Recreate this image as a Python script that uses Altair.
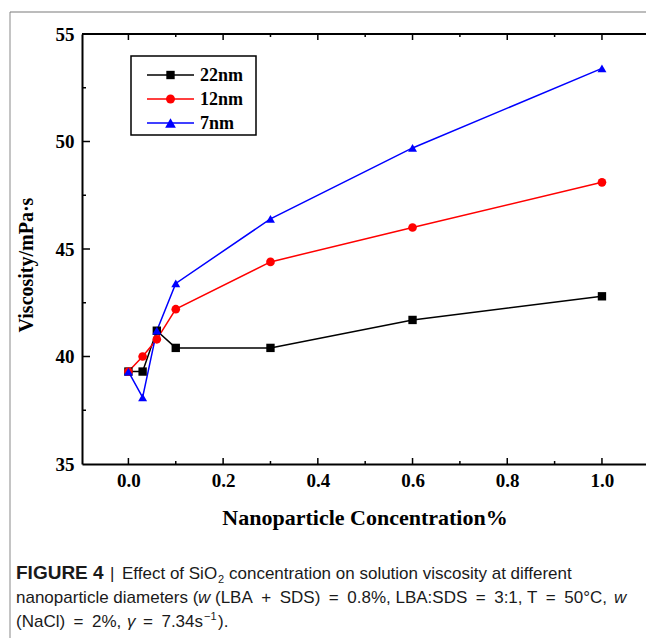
import altair as alt
import pandas as pd

# ---- data ----
conc = [0.0, 0.03, 0.06, 0.1, 0.3, 0.6, 1.0]
visc_22nm = [39.3, 39.3, 41.2, 40.4, 40.4, 41.7, 42.8]
visc_12nm = [39.3, 40.0, 40.8, 42.2, 44.4, 46.0, 48.1]
visc_7nm = [39.3, 38.1, 41.2, 43.4, 46.4, 49.7, 53.4]
series_names = ["22nm", "12nm", "7nm"]
series_colors = ["#000000", "#ff0000", "#0000ff"]
series_shapes = ["square", "circle", "triangle-up"]
series_sizes = [70, 80, 115]

x_major = [0.0, 0.2, 0.4, 0.6, 0.8, 1.0]
x_minor = [0.1, 0.3, 0.5, 0.7, 0.9]
y_major = [35, 40, 45, 50, 55]
y_minor = [37.5, 42.5, 47.5, 52.5]

x_title = "Nanoparticle Concentration%"
y_title = "Viscosity/mPa·s"
EN = "\u2002"

W, H = 564, 430
SERIF = "Liberation Serif"
SANS = "Liberation Sans"

rows = []
for name, vals in zip(series_names, [visc_22nm, visc_12nm, visc_7nm]):
    for c, v in zip(conc, vals):
        rows.append({"series": name, "conc": c, "visc": v})
df = pd.DataFrame(rows)

xscale = alt.Scale(domain=[-0.098, 1.093], nice=False, zero=False)
yscale = alt.Scale(domain=[35, 55], nice=False, zero=False)
x_axis = alt.Axis(values=x_major, format=".1f", ticks=False, grid=False, title=None, labelPadding=7)
y_axis = alt.Axis(values=y_major, format="d", ticks=False, grid=False, title=None, labelPadding=8)
color = alt.Color("series:N", scale=alt.Scale(domain=series_names, range=series_colors), legend=None)

base = alt.Chart(df).encode(
    x=alt.X("conc:Q", scale=xscale, axis=x_axis),
    y=alt.Y("visc:Q", scale=yscale, axis=y_axis),
    color=color,
)
lines = base.mark_line(strokeWidth=1.5)
points = base.mark_point(filled=True, opacity=1).encode(
    shape=alt.Shape("series:N", scale=alt.Scale(domain=series_names, range=series_shapes), legend=None),
    size=alt.Size("series:N", scale=alt.Scale(domain=series_names, range=series_sizes), legend=None),
)

one = pd.DataFrame({"k": [0]})

def xt(vals, length, top):
    d = pd.DataFrame({"conc": vals})
    if top:
        y0, y1 = 0, length
    else:
        y0, y1 = H, H - length
    return alt.Chart(d).mark_rule(color="black", strokeWidth=1.5).encode(
        x=alt.X("conc:Q", scale=xscale, axis=x_axis), y=alt.value(y0), y2=alt.value(y1))

def yt(vals, length):
    d = pd.DataFrame({"visc": vals})
    return alt.Chart(d).mark_rule(color="black", strokeWidth=1.5).encode(
        y=alt.Y("visc:Q", scale=yscale, axis=y_axis), x=alt.value(0), x2=alt.value(length))

ticks = [xt(x_major, 6, False), xt(x_minor, 3, False), xt(x_major, 6, True), xt(x_minor, 3, True),
         yt(y_major[1:-1], 8), yt(y_minor, 4)]

top_line = alt.Chart(one).mark_rule(color="black", strokeWidth=2).encode(
    x=alt.value(0), x2=alt.value(W), y=alt.value(0))

# figure frame
frame_left = alt.Chart(one).mark_rule(color="#c4c4c4", strokeWidth=2).encode(
    x=alt.value(-72), y=alt.value(-22), y2=alt.value(H + 174))
frame_top = alt.Chart(one).mark_rule(color="#7a7a7a", strokeWidth=1.2).encode(
    x=alt.value(-72), x2=alt.value(W), y=alt.value(-22))

# legend
leg_box = alt.Chart(one).mark_rect(fill="white", stroke="black", strokeWidth=1.5).encode(
    x=alt.value(49), x2=alt.value(174), y=alt.value(22), y2=alt.value(101))
leg_layers = [leg_box]
row_y = [41, 65, 89]
for name, col, shp, sz, ry in zip(series_names, series_colors, series_shapes, series_sizes, row_y):
    leg_layers.append(alt.Chart(one).mark_rule(color=col, strokeWidth=1.5).encode(
        x=alt.value(65), x2=alt.value(112), y=alt.value(ry)))
    leg_layers.append(alt.Chart(one).mark_point(filled=True, opacity=1, color=col, shape=shp, size=sz).encode(
        x=alt.value(88.5), y=alt.value(ry)))
    leg_layers.append(alt.Chart(one).mark_text(text=name, font=SERIF, fontWeight="bold", fontSize=18,
                                               align="left", baseline="middle", color="black").encode(
        x=alt.value(118), y=alt.value(ry + 1)))

# titles
xt_text = alt.Chart(one).mark_text(text=x_title, font=SERIF, fontWeight="bold", fontSize=22,
                                   align="center", baseline="middle", color="black").encode(
    x=alt.value(283), y=alt.value(484))
yt_text = alt.Chart(one).mark_text(text=y_title, font=SERIF, fontWeight="bold", fontSize=20, angle=270,
                                   align="center", baseline="middle", color="black").encode(
    x=alt.value(-55), y=alt.value(231))

# caption pieces: (text, abs x, line, size, weight, style, dy)
CAP_X0 = 82
line_y = [579, 603, 627]
cap_pieces = [
    ("FIGURE 4", 16, 0, 19, "bold", "normal", 0),
    ("|", 110, 0, 17, "normal", "normal", 0),
    ("Effect of SiO", 122, 0, 17, "normal", "normal", 0),
    ("2", 218, 0, 11, "normal", "normal", 4),
    ("concentration on solution viscosity at different", 229, 0, 17, "normal", "normal", 0),
    ("nanoparticle diameters (", 16, 1, 17, "normal", "normal", 0),
    ("w", 198, 1, 17, "normal", "italic", 0),
    ("(LBA" + EN + "+" + EN + "SDS)" + EN + "=" + EN + "0.8%, LBA:SDS" + EN + "=" + EN + "3:1, T" + EN + "=" + EN + "50°C,",
     215, 1, 17, "normal", "normal", 0),
    ("w", 614, 1, 17, "normal", "italic", 0),
    ("(NaCl)" + EN + "=" + EN + "2%,", 16, 2, 17, "normal", "normal", 0),
    ("\u03b3", 127, 2, 17, "normal", "italic", 0),
    ("=" + EN + "7.34s", 143, 2, 17, "normal", "normal", 0),
    ("\u22121", 204, 2, 11, "normal", "normal", -7),
    (").", 218, 2, 17, "normal", "normal", 0),
]
cap = []
for txt, ax, ln, fs, fw, st, dy in cap_pieces:
    cap.append(alt.Chart(one).mark_text(text=txt, font=SANS, fontSize=fs, fontWeight=fw, fontStyle=st,
                                        align="left", baseline="alphabetic", color="#1a1a1a").encode(
        x=alt.value(ax - CAP_X0), y=alt.value(line_y[ln] + dy - 34)))

chart = alt.layer(
    frame_left, frame_top, lines, points, *ticks, top_line, *leg_layers, xt_text, yt_text, *cap
).properties(
    width=W, height=H,
    padding={"left": 82, "top": 34, "right": 0, "bottom": 174},
    autosize=alt.AutoSizeParams(type="none"),
).configure_view(stroke=None).configure_axis(
    labelFont=SERIF, labelFontWeight="bold", labelFontSize=19, labelColor="black",
    domainColor="black", domainWidth=2,
)

chart.save("out.html", embed_options={"renderer": "svg", "actions": False})
